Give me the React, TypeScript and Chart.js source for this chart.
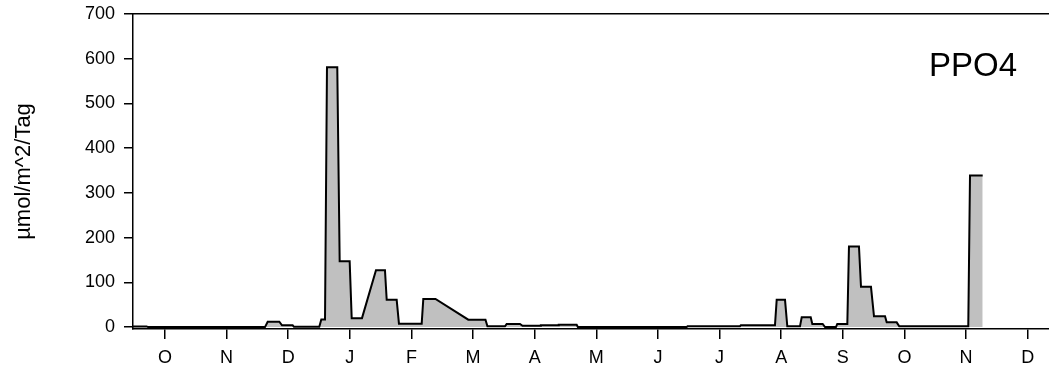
import React, { useEffect, useRef } from "react";
import { Chart, registerables } from "chart.js";

Chart.register(...registerables);

// Month tick labels (ticks sit at integer positions 0..14)
const MONTH_LABELS = ["O", "N", "D", "J", "F", "M", "A", "M", "J", "J", "A", "S", "O", "N", "D"];
const Y_TICKS = [0, 100, 200, 300, 400, 500, 600, 700];

// Sample positions in month units (0 = first "O" tick)
const SAMPLE_POS = [
  -0.519, -0.297, -0.276, 1.623, 1.667, 1.855, 1.899, 2.072, 2.093, 2.504,
  2.537, 2.597, 2.629, 2.796, 2.835, 2.997, 3.03, 3.197, 3.424, 3.57,
  3.598, 3.76, 3.797, 4.166, 4.192, 4.39, 4.922, 5.201, 5.233, 5.518,
  5.545, 5.761, 5.802, 6.086, 6.1, 6.378, 6.39, 6.681, 6.7, 8.466,
  8.48, 9.331, 9.345, 9.899, 9.927, 10.062, 10.099, 10.305, 10.333, 10.479,
  10.505, 10.673, 10.711, 10.889, 10.91, 11.073, 11.1, 11.262, 11.295, 11.457,
  11.506, 11.685, 11.712, 11.874, 11.916, 13.036, 13.064, 13.27,
];

// PPO4 flux, µmol/m^2/Tag
const PPO4_VALUES = [
  1.5, 1.5, 0, 0, 12, 12, 4, 4, 0.5, 0.5,
  17, 17, 581, 581, 147, 147, 20, 20, 127, 127,
  61, 61, 7.6, 7.6, 63, 63, 16.5, 16.5, 1.6, 1.6,
  7, 7, 3, 3, 4, 4, 5, 5, 0, 0,
  2, 2, 4, 4, 61, 61, 1.6, 1.6, 22, 22,
  7, 7, 0, 0, 7, 7, 180, 180, 90, 90,
  24, 24, 10.6, 10.6, 1.6, 1.6, 339, 339,
];

const SERIES_LABEL = "PPO4";
const Y_TITLE = "µmol/m^2/Tag";

const FONT = "'Liberation Sans', Arial, sans-serif";

export default function App() {
  const ref = useRef<HTMLCanvasElement | null>(null);

  useEffect(() => {
    if (!ref.current) return;
    const labelPlugin = {
      id: "seriesLabel",
      afterDraw(chart: any) {
        const { ctx, chartArea } = chart;
        ctx.save();
        ctx.font = `33px ${FONT}`;
        ctx.fillStyle = "#000";
        ctx.textAlign = "right";
        ctx.textBaseline = "alphabetic";
        ctx.fillText(SERIES_LABEL, chartArea.right - 32, chartArea.top + 62);
        ctx.restore();
      },
    };

    const chart = new Chart(ref.current, {
      type: "line",
      data: {
        datasets: [
          {
            label: SERIES_LABEL,
            data: SAMPLE_POS.map((x, i) => ({ x, y: PPO4_VALUES[i] })),
            borderColor: "#000",
            borderWidth: 2,
            backgroundColor: "#c0c0c0",
            fill: "origin",
            tension: 0,
            pointRadius: 0,
            borderJoinStyle: "miter",
          },
        ],
      },
      plugins: [labelPlugin],
      options: {
        animation: false,
        responsive: false,
        maintainAspectRatio: false,
        layout: { padding: 0 },
        plugins: {
          legend: { display: false },
          tooltip: { enabled: false },
        },
        scales: {
          x: {
            type: "linear",
            position: "bottom",
            min: -0.519,
            max: 14.346,
            afterBuildTicks: (scale: any) => {
              scale.ticks = MONTH_LABELS.map((_, i) => ({ value: i }));
            },
            afterFit: (scale: any) => {
              scale.height = 44;
              scale.paddingLeft = 0;
              scale.paddingRight = 0;
            },
            ticks: {
              autoSkip: false,
              maxRotation: 0,
              color: "#000",
              padding: 8,
              font: { family: FONT, size: 18 },
              callback: (v: any) => MONTH_LABELS[Math.round(v)] ?? "",
            },
            grid: {
              drawOnChartArea: false,
              drawTicks: true,
              tickLength: 10,
              color: "#000",
              lineWidth: 1.5,
            },
            border: { display: true, color: "#000", width: 1.5 },
          },
          xTop: {
            type: "linear",
            position: "top",
            min: -0.519,
            max: 14.346,
            afterFit: (scale: any) => {
              scale.height = 14;
              scale.paddingLeft = 0;
              scale.paddingRight = 0;
            },
            ticks: { display: false },
            grid: { drawOnChartArea: false, drawTicks: false },
            border: { display: true, color: "#000", width: 1.5 },
          },
          y: {
            type: "linear",
            position: "left",
            min: -4.3,
            max: 700,
            afterBuildTicks: (scale: any) => {
              scale.ticks = Y_TICKS.map((v) => ({ value: v }));
            },
            afterFit: (scale: any) => {
              scale.width = 133;
              scale.paddingTop = 0;
              scale.paddingBottom = 0;
            },
            ticks: {
              color: "#000",
              padding: 9,
              font: { family: FONT, size: 18 },
            },
            grid: {
              drawOnChartArea: false,
              drawTicks: true,
              tickLength: 9,
              color: "#000",
              lineWidth: 1.5,
            },
            border: { display: true, color: "#000", width: 1.5 },
            title: {
              display: true,
              text: Y_TITLE,
              color: "#000",
              font: { family: FONT, size: 22 },
              padding: { top: 11, bottom: 0 },
            },
          },
        },
      },
    });
    return () => chart.destroy();
  }, []);

  return (
    <div style={{ position: "fixed", left: 0, top: 0, width: 1049, height: 373, background: "#fff" }}>
      <canvas ref={ref} width={1049} height={373} style={{ display: "block" }} />
    </div>
  );
}
